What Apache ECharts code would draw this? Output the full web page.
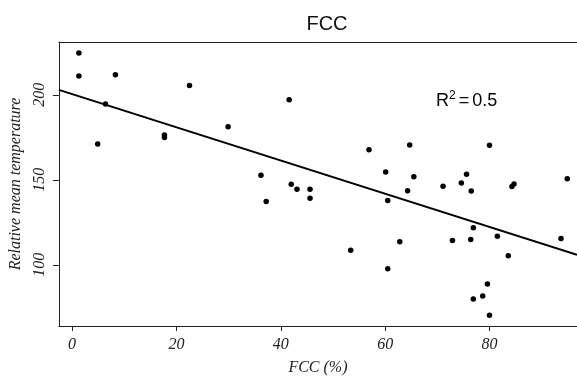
<!DOCTYPE html>
<html>
<head>
<meta charset="utf-8">
<script src="https://cdn.jsdelivr.net/npm/echarts@6/dist/echarts.min.js"></script>
<style>
html,body{margin:0;padding:0;background:#fff;}
#chart{width:577px;height:381px;}
</style>
</head>
<body>
<div id="chart"></div>
<script>
// FCC (%) values of the points
var fccValues = [1.3, 1.3, 8.3, 6.4, 4.9, 17.7, 17.7, 22.5, 29.9, 41.6,
  36.2, 42.0, 43.1, 45.6, 45.6, 37.2, 56.9, 64.7, 80.0, 60.1,
  65.5, 75.6, 74.6, 71.1, 76.5, 64.3, 84.3, 84.7, 94.9, 60.5,
  53.4, 62.8, 72.9, 76.4, 76.9, 81.5, 83.6, 93.7, 60.5, 79.6,
  78.7, 76.9, 80.0];
// Relative mean temperature values of the points
var tempValues = [224.5, 211.0, 211.8, 194.5, 171.1, 176.3, 174.8, 205.4, 181.2, 197.1,
  152.6, 147.4, 144.5, 144.5, 139.1, 137.2, 167.7, 170.5, 170.3, 154.5,
  151.8, 153.2, 148.1, 146.2, 143.4, 143.5, 146.1, 147.5, 150.6, 137.8,
  108.5, 113.5, 114.3, 114.9, 121.8, 116.8, 105.3, 115.5, 97.7, 88.7,
  81.7, 79.8, 70.3];
// Regression line endpoints
var fitLineX = [-2.53, 96.77];
var fitLineY = [202.9, 105.9];
var xTicks = [0, 20, 40, 60, 80];
var yTicks = [100, 150, 200];
var titleText = 'FCC';
var xName = 'FCC (%)';
var yName = 'Relative mean temperature';

var points = fccValues.map(function (v, i) { return [v, tempValues[i]]; });
var fitLine = fitLineX.map(function (v, i) { return [v, fitLineY[i]]; });

var chart = echarts.init(document.getElementById('chart'), null, {renderer: 'canvas'});
var serif = '"Liberation Serif", "DejaVu Serif", serif';
var sans = '"Liberation Sans", Arial, sans-serif';
var xMin = -2.53, xMax = 96.77;
chart.setOption({
  animation: false,
  backgroundColor: '#fff',
  title: {
    text: titleText,
    left: 322, top: 9, textAlign: 'center',
    textStyle: {fontFamily: sans, fontSize: 20, fontWeight: 'normal', color: '#111'}
  },
  grid: {
    left: 56, right: 0, top: 42, bottom: 50, show: false
  },
  xAxis: [{
    type: 'value', min: xMin, max: xMax,
    name: xName, nameLocation: 'middle', nameGap: 34,
    nameTextStyle: {fontFamily: serif, fontStyle: 'italic', fontSize: 16, color: '#222'},
    axisLine: {show: true, onZero: false, lineStyle: {color: '#222', width: 1}},
    axisTick: {show: true, length: 5, inside: false, customValues: xTicks, lineStyle: {color: '#222'}},
    axisLabel: {customValues: xTicks, fontFamily: serif, fontStyle: 'italic', fontSize: 16, color: '#222', margin: 11},
    splitLine: {show: false}
  }, {
    type: 'value', min: xMin, max: xMax, position: 'top',
    axisLine: {show: true, onZero: false, lineStyle: {color: '#222', width: 1}},
    axisTick: {show: false}, axisLabel: {show: false}, splitLine: {show: false}
  }],
  yAxis: {
    type: 'value', min: 63.99, max: 231.04,
    name: yName, nameLocation: 'middle', nameGap: 32, nameRotate: 90,
    nameTextStyle: {fontFamily: serif, fontStyle: 'italic', fontSize: 16, color: '#222'},
    axisLine: {show: true, onZero: false, lineStyle: {color: '#222', width: 1}},
    axisTick: {show: true, length: 6, inside: false, customValues: yTicks, lineStyle: {color: '#222'}},
    axisLabel: {customValues: yTicks, rotate: 90, fontFamily: serif, fontStyle: 'italic', fontSize: 16, color: '#222', margin: 11},
    splitLine: {show: false}
  },
  graphic: [{
    type: 'text', left: 436, top: 90,
    style: {
      text: '{r|R}{s|2}{e|=}{f|0.5}',
      rich: {
        r: {fontFamily: sans, fontSize: 18, color: '#222', lineHeight: 22},
        s: {fontFamily: sans, fontSize: 12, color: '#222', lineHeight: 22, padding: [0, 3, 10, 0]},
        e: {fontFamily: sans, fontSize: 18, color: '#222', lineHeight: 22, padding: [0, 3, 0, 0]},
        f: {fontFamily: sans, fontSize: 18, color: '#222', lineHeight: 22}
      }
    }
  }],
  series: [{
    type: 'line', data: fitLine, showSymbol: false, symbol: 'none',
    lineStyle: {color: '#000', width: 2}, silent: true, z: 2
  }, {
    type: 'scatter', data: points, symbol: 'circle', symbolSize: 5.5,
    itemStyle: {color: '#000', opacity: 1}, z: 3
  }]
});
</script>
</body>
</html>
